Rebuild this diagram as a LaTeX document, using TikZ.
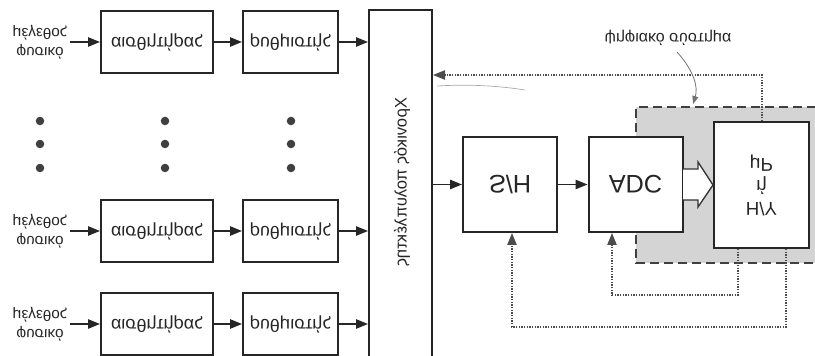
\documentclass[tikz,border=0pt]{standalone}
\usepackage{fontspec}
\setmainfont{Liberation Sans}
\usetikzlibrary{arrows.meta}
% text printed upside down (mirrored top to bottom)
\newcommand{\vflip}[1]{\scalebox{1}[-1]{#1}}

\begin{document}
\begin{tikzpicture}[x=0.75pt,y=-0.75pt,
  ink/.style={draw=black!85, line width=1.5pt},
  blockbox/.style={ink, fill=white, inner sep=0pt, text=black!85},
  sensorbox/.style={blockbox, minimum width=84pt, minimum height=46.5pt, font=\fontsize{13.5}{15}\selectfont},
  condbox/.style={blockbox, minimum width=71.25pt, minimum height=46.5pt, font=\fontsize{13.5}{15}\selectfont},
  unitbox/.style={blockbox, minimum width=70.5pt, minimum height=71.25pt, font=\fontsize{19}{22}\selectfont},
  inlabel/.style={align=center, inner sep=1.5pt, text=black!85, font=\fontsize{11.5}{14}\selectfont},
  sig/.style={draw=black!85, line width=1.2pt, -{Triangle[length=9pt,width=7pt]}},
  ctl/.style={draw=black!70, line width=0.9pt, dash pattern=on 1.1pt off 0.9pt, -{Triangle[length=9pt,width=7pt]}},
  dot/.style={fill=black!75},
]
\useasboundingbox (0,0) rectangle (815,356);
\clip (0,0) rectangle (815,356);

% shaded area of the digital system
\fill[black!17] (636,107) rectangle (830,263);
\draw[draw=black!75, line width=1.4pt, dash pattern=on 6.5pt off 4pt]
  (830,107) -- (636,107) -- (636,263) -- (830,263);

% input channels: label, sensor, conditioner
\foreach \r/\y in {1/42, 2/231, 3/324} {
  \node[inlabel] (lab\r) at (40,\y) {\vflip{μέγεθος}\\\vflip{φυσικό}};
  \node[sensorbox] (sen\r) at (157,\y) {\vflip{αισθητήρας}};
  \node[condbox] (amp\r) at (290.5,\y) {\vflip{ρυθμιστής}};
}

% multiplexer
\node[blockbox, minimum width=47.25pt, minimum height=270pt] (mux) at (400.5,190) {};
\node[rotate=-90, text=black!85, font=\fontsize{12.5}{15}\selectfont] (muxlabel) at (402,182)
  {\vflip{Χρονικός πολυπλέκτης}};

\foreach \r in {1,2,3} {
  \draw[sig] (lab\r.east) -- (sen\r.west);
  \draw[sig] (sen\r.east) -- (amp\r.west);
  \draw[sig] (amp\r.east) -- (amp\r.east -| mux.west);
}

% omitted channels
\foreach \x in {40,165,291} {
  \foreach \y in {121,144,168} {
    \fill[dot] (\x,\y) circle[radius=3.2pt];
  }
}

% conversion chain
\node[unitbox] (sh) at (510,184.5) {\vflip{S/H}};
\node[unitbox] (adc) at (635.5,184.5) {\vflip{ADC}};
\node[blockbox, minimum width=71.25pt, minimum height=94.5pt, align=center,
      font=\fontsize{14}{16.5}\selectfont] (mp) at (761.5,185)
  {\vflip{μP}\\\vflip{ή}\\\vflip{Η/Υ}};

\draw[sig] (mux.east |- sh.west) -- (sh.west);
\draw[sig] (sh.east) -- (adc.west);

% wide data bus arrow
\draw[draw=black!80, line width=1pt, fill=white, line join=miter]
  (683,169) -- (698,169) -- (698,162) -- (mp.west) -- (698,207) -- (698,200) -- (683,200);

% control and feedback lines
\coordinate (fb) at (762,75);
\draw[ctl] (mp.north -| fb) -- (fb) -- (fb -| mux.east);
\coordinate (k1) at (738,295);
\coordinate (k2) at (612,295);
\draw[ctl] (mp.south -| k1) -- (k1) -- (k2) -- (adc.south -| k2);
\coordinate (k3) at (786,327);
\coordinate (k4) at (512,327);
\draw[ctl] (mp.south -| k3) -- (k3) -- (k4) -- (sh.south -| k4);

% label of the digital system
\node[text=black!85, font=\fontsize{12}{14}\selectfont] (dslabel) at (668,38) {\vflip{ψηφιακό σύστημα}};
\coordinate (pstart) at (677,52);
\coordinate (pend) at (693,104);
\draw[draw=black!55, line width=0.6pt, -{Triangle[length=6pt,width=4.5pt]}]
  (pstart) .. controls (695,72) and (698,88) .. (pend);

% faint pencil stroke
\draw[black!35, line width=0.5pt] (437,86) .. controls (470,84) and (500,86) .. (525,90);

\end{tikzpicture}
\end{document}
